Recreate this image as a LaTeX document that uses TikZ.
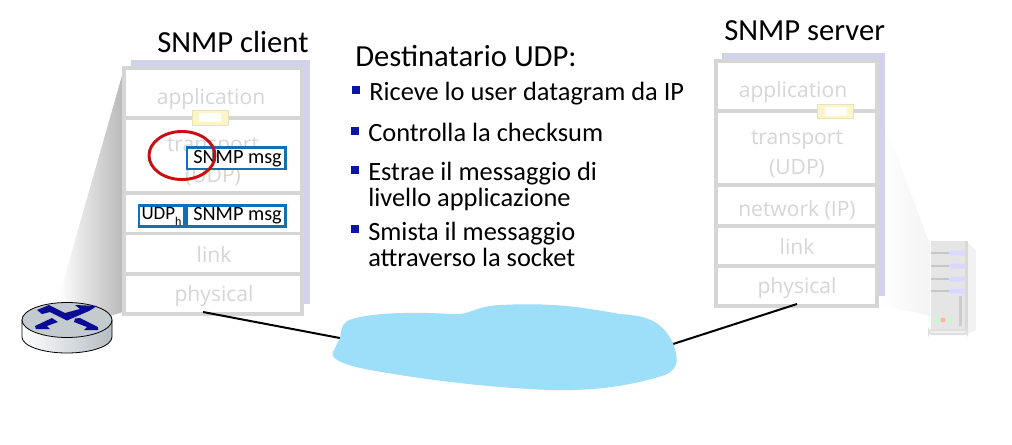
\documentclass[tikz,border=0pt]{standalone}
\usepackage{fontspec}
\setmainfont{Carlito}
\newfontfamily\layerfont{Open Sans}
\definecolor{shadowc}{HTML}{D2D2EA}
\definecolor{layerc}{HTML}{D6D6D6}
\definecolor{msgblue}{HTML}{1070B8}
\definecolor{bulletblue}{HTML}{0A14A8}
\definecolor{cloudc}{HTML}{9DDFF9}
\definecolor{ringred}{HTML}{C80F14}
\definecolor{routerblue}{HTML}{0A0A96}
\definecolor{routertop}{HTML}{C3CBCF}
\definecolor{routerside}{HTML}{B4BDC4}
\definecolor{socketc}{HTML}{FBF5C8}
\tikzset{
  stackbox/.style={draw=layerc,line width=2.5pt,fill=white},
  divider/.style={draw=layerc,line width=2.5pt},
  layertext/.style={font=\layerfont\fontsize{15.8}{19}\selectfont,text=layerc,inner sep=0pt,anchor=base},
  head/.style={font=\fontsize{23}{26}\selectfont,inner sep=0pt,anchor=base west},
  body/.style={font=\fontsize{19.8}{22}\selectfont,inner sep=0pt,anchor=base west,text=black},
  bull/.style={fill=bulletblue,inner sep=0pt,minimum size=6pt},
  msgbox/.style={draw=msgblue,line width=2pt,fill=white,inner sep=0pt,font=\fontsize{15.2}{16}\selectfont},
  socket/.style={fill=socketc,draw=socketc!85!gray,line width=.5pt,inner sep=0pt},
  wire/.style={draw=black,line width=1.5pt}
}
\begin{document}
\begin{tikzpicture}[x=0.75pt,y=-0.75pt]
\useasboundingbox (0,0) rectangle (1012,445);
% zoom cones
\shade[left color=white,right color=gray!55] (58,300) -- (123,72) -- (123,312) -- (110,316) -- cycle;
\shade[left color=white,right color=gray!9] (880,110) -- (930,245) -- (930,316) -- (878,304) -- cycle;
% shadows
\fill[shadowc] (131,60) rectangle (310,304);
\fill[shadowc] (722,53) rectangle (885,296);
% client stack
\draw[stackbox] (124,68) rectangle (302,314);
\node[layertext] (capp) at (211,105) {application};
\node[layertext] (ctrans) at (213,152) {transport};
\node[layertext] (cudp) at (213,183) {(UDP)};
\node[layertext] (cnet) at (213,223) {network (IP)};
\node[layertext] (clink) at (214,262) {link};
\node[layertext] (cphys) at (214,301) {physical};
\draw[divider] (124,118) -- (302,118) (124,193) -- (302,193) (124,233.5) -- (302,233.5) (124,274) -- (302,274);
% server stack
\draw[stackbox] (716,61) rectangle (877,306);
\node[layertext] (sapp) at (793,98) {application};
\node[layertext] (strans) at (797,145) {transport};
\node[layertext] (sudp) at (797,175) {(UDP)};
\node[layertext] (snet) at (797,216) {network (IP)};
\node[layertext] (slink) at (797,254) {link};
\node[layertext] (sphys) at (797,293) {physical};
\draw[divider] (716,111) -- (877,111) (716,185) -- (877,185) (716,226) -- (877,226) (716,266) -- (877,266);
% sockets
\node[socket,minimum width=27pt,minimum height=11pt] (csock) at (210,118) {};
\fill[white] (199,113) rectangle (221,122);
\node[socket,minimum width=27pt,minimum height=11pt] (ssock) at (835.5,111.5) {};
\fill[white] (825,107) rectangle (847,116);
% messages
\node[msgbox,minimum width=74pt,minimum height=16pt,anchor=north west] (m1) at (185.5,146.5) {\hspace*{2pt}\raisebox{-.7pt}{SNMP msg}};
\node[msgbox,minimum width=74pt,minimum height=16pt,anchor=north west] (m2) at (185.5,204) {\hspace*{2pt}\raisebox{-.7pt}{SNMP msg}};
\node[msgbox,minimum width=34pt,minimum height=16pt,anchor=north east,font=\fontsize{14.2}{15}\selectfont] (udph) at (m2.north west) {UDP\raisebox{-4.5pt}{\fontsize{9}{10}\selectfont h}};
\draw[ringred,line width=2.2pt] (182,155.5) ellipse [x radius=33,y radius=24];
% titles
\node[head] (ctitle) at (157,52.5) {SNMP client};
\node[head] (stitle) at (724,41) {SNMP server};
\node[head] (dest) at (355,66.5) {Destinatario UDP:};
% bullet list
\node[bull] (b1) at (356,90) {};
\node[body] (t1) at (369,101) {Riceve lo user datagram da IP};
\node[bull] (b2) at (355,131) {};
\node[body] (t2) at (368,142) {Controlla la checksum};
\node[bull] (b3) at (355,170) {};
\node[body] (t3) at (368,180.5) {Estrae il messaggio di};
\node[body] (t3b) at (368,206.5) {livello applicazione};
\node[bull] (b4) at (355,229) {};
\node[body] (t4) at (368,240.5) {Smista il messaggio};
\node[body] (t4b) at (368,266.5) {attraverso la socket};
% wires and cloud
\coordinate (wc1) at (203,312);
\coordinate (wc2) at (345,339);
\coordinate (ws1) at (797,304);
\coordinate (ws2) at (670,345);
\draw[wire] (wc1) -- (wc2);
\draw[wire] (ws1) -- (ws2);
\fill[cloudc] (340,338) .. controls (342,325) and (343,322) .. (352,319)
 .. controls (375,312) and (420,312) .. (450,314)
 .. controls (470,316) and (475,306) .. (500,305)
 .. controls (560,302) and (590,309) .. (620,314)
 .. controls (650,316) and (662,322) .. (673,343)
 .. controls (678,358) and (680,368) .. (665,375)
 .. controls (630,386) and (590,393) .. (530,389)
 .. controls (470,386) and (400,376) .. (360,368)
 .. controls (340,363) and (328,358) .. (334,350) -- cycle;
% router
\path[left color=white,right color=routerside,draw=black,line width=.6pt]
  (22,320) -- (22,337) arc[start angle=180,end angle=0,x radius=45,y radius=16] -- (112,320) -- cycle;
\draw[draw=black,line width=.6pt,fill=routertop] (67,320) ellipse [x radius=45,y radius=17.5];
\fill[routerblue] (37,310) -- (49,305) -- (65,313) -- (80,309) -- (75,305) -- (97,306) -- (89,311) -- (67,320.5) -- (50,312) -- (42,314) -- cycle;
\fill[routerblue] (35,326) -- (52,318) -- (58,322) -- (47,326) -- (50,329) -- (36,329) -- cycle;
\fill[routerblue] (75,318.5) -- (80,318) -- (98,327) -- (98,330) -- (84,330) -- (87,327) -- (74,322) -- cycle;
% server machine
\fill[gray!20] (931,241) rectangle (966,332);
\fill[gray!10] (966,241) -- (976,250) -- (976,330) -- (966,335) -- cycle;
\fill[gray!30] (965,241) rectangle (968,332);
\draw[gray!25,line width=1.5pt,rounded corners=2pt,fill=gray!10] (929,330) rectangle (967,334);
\foreach \y in {253,266,279,291}{
  \fill[gray!45] (931,\y-1) rectangle (966,\y+1);
  \fill[blue!15!white,rounded corners=1.5pt] (949,\y-2.5) rectangle (966,\y+2.5);
}
\fill[gray!40] (959,296) rectangle (962,326);
\fill[green!25!white] (937,320) circle (2.5);
\fill[red!30!white] (943,320) circle (2.5);
\fill[green!25!white] (949,320) circle (2.5);
\end{tikzpicture}
\end{document}
